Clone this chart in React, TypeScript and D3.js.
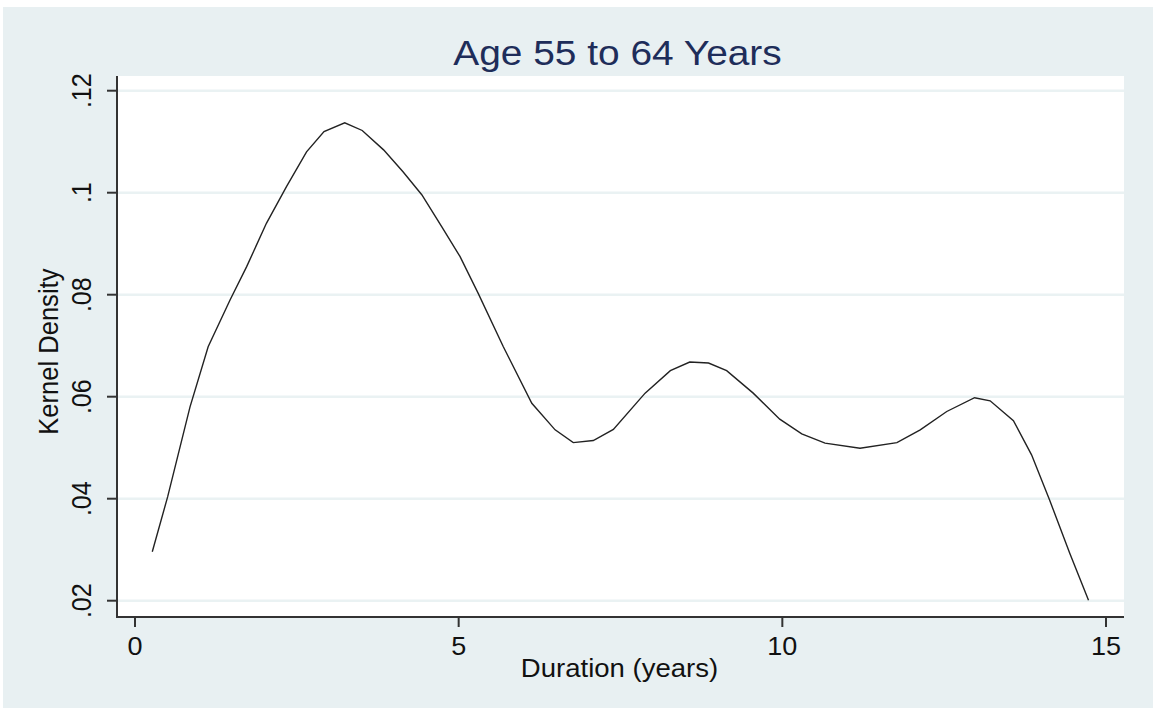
import React from "react";
import * as d3 from "d3";

const title = "Age 55 to 64 Years";
const xLabel = "Duration (years)";
const yLabel = "Kernel Density";
const xTicks = [0, 5, 10, 15];
const yTicks = [0.02, 0.04, 0.06, 0.08, 0.1, 0.12];
const yTickLabels = [".02", ".04", ".06", ".08", ".1", ".12"];

const durationYears = [
  0.267, 0.505, 0.85, 1.13, 1.47, 1.725, 2.03, 2.34, 2.65, 2.92, 3.24, 3.51, 3.84, 4.14, 4.43, 4.74,
  5.02, 5.3, 5.69, 6.13, 6.49, 6.77, 7.08, 7.39, 7.88, 8.27, 8.57, 8.86, 9.14, 9.55, 9.96,
  10.3, 10.66, 11.2, 11.77, 12.13, 12.54, 12.97, 13.21, 13.57, 13.85, 14.13, 14.44, 14.73,
];
const kernelDensity = [
  0.0296, 0.0404, 0.058, 0.0698, 0.079, 0.0855, 0.094, 0.1012, 0.108, 0.112, 0.1137, 0.1122, 0.1084, 0.1041, 0.0996, 0.0933,
  0.0875, 0.0803, 0.0698, 0.0587, 0.0535, 0.051, 0.0514, 0.0536, 0.0607, 0.0651, 0.0668, 0.0666, 0.0651, 0.0607, 0.0556,
  0.0527, 0.0509, 0.0499, 0.051, 0.0535, 0.0571, 0.0598, 0.0592, 0.0553, 0.0486, 0.0397, 0.0293, 0.0201,
];

const W = 1153;
const H = 709;
const plot = { left: 117, right: 1124, top: 76, bottom: 617 };
const SX = 1.08;
const textColor = "#111";

export default function App() {
  const x = d3.scaleLinear().domain([0, 15]).range([135, 1106]);
  const y = d3.scaleLinear().domain([0.02, 0.12]).range([600.7, 90.7]);
  const pts = durationYears.map((d, i) => [d, kernelDensity[i]] as [number, number]);
  const line = d3
    .line<[number, number]>()
    .x((d) => x(d[0]))
    .y((d) => y(d[1]))
    .curve(d3.curveLinear);

  const font = "'Liberation Sans', Arial, sans-serif";

  return (
    <svg
      width={W}
      height={H}
      style={{ position: "absolute", left: 0, top: 0, background: "#fff" }}
    >
      <rect x={3} y={7} width={W - 3} height={H - 8} fill="#E8F0F2" />
      <rect
        x={plot.left}
        y={plot.top}
        width={plot.right - plot.left}
        height={plot.bottom - plot.top}
        fill="#FFFFFF"
      />
      {yTicks.map((t) => (
        <line
          key={"g" + t}
          x1={plot.left}
          x2={plot.right}
          y1={y(t)}
          y2={y(t)}
          stroke="#EAF2F3"
          strokeWidth={2.5}
        />
      ))}
      <path d={line(pts) || ""} fill="none" stroke="#222" strokeWidth={1.4} />
      <line x1={plot.left} x2={plot.left} y1={plot.top} y2={plot.bottom + 1} stroke="#333" strokeWidth={2} />
      <line x1={plot.left} x2={plot.right} y1={plot.bottom} y2={plot.bottom} stroke="#333" strokeWidth={2} />
      {yTicks.map((t, i) => (
        <g key={"y" + t}>
          <line x1={plot.left - 10} x2={plot.left} y1={y(t)} y2={y(t)} stroke="#333" strokeWidth={2} />
          <g transform={`translate(${91},${y(t)}) scale(${SX},1) rotate(-90)`}>
            <text x={0} y={0} textAnchor="middle" fontFamily={font} fontSize={25} fill={textColor}>
              {yTickLabels[i]}
            </text>
          </g>
        </g>
      ))}
      {xTicks.map((t) => (
        <g key={"x" + t}>
          <line x1={x(t)} x2={x(t)} y1={plot.bottom} y2={plot.bottom + 10} stroke="#333" strokeWidth={2} />
          <g transform={`translate(${x(t)},${655}) scale(${SX},1)`}>
            <text x={0} y={0} textAnchor="middle" fontFamily={font} fontSize={25} fill={textColor}>
              {t}
            </text>
          </g>
        </g>
      ))}
      <g transform={`translate(${619.5},${676.7}) scale(${SX},1)`}>
        <text x={0} y={0} textAnchor="middle" fontFamily={font} fontSize={25.5} fill={textColor}>
          {xLabel}
        </text>
      </g>
      <g transform={`translate(${58.3},${351.7}) scale(${SX},1) rotate(-90)`}>
        <text x={0} y={0} textAnchor="middle" fontFamily={font} fontSize={25.6} fill={textColor}>
          {yLabel}
        </text>
      </g>
      <g transform={`translate(${617.5},${65}) scale(${SX},1)`}>
        <text x={0} y={0} textAnchor="middle" fontFamily={font} fontSize={36} fill="#1E2D5A">
          {title}
        </text>
      </g>
    </svg>
  );
}
